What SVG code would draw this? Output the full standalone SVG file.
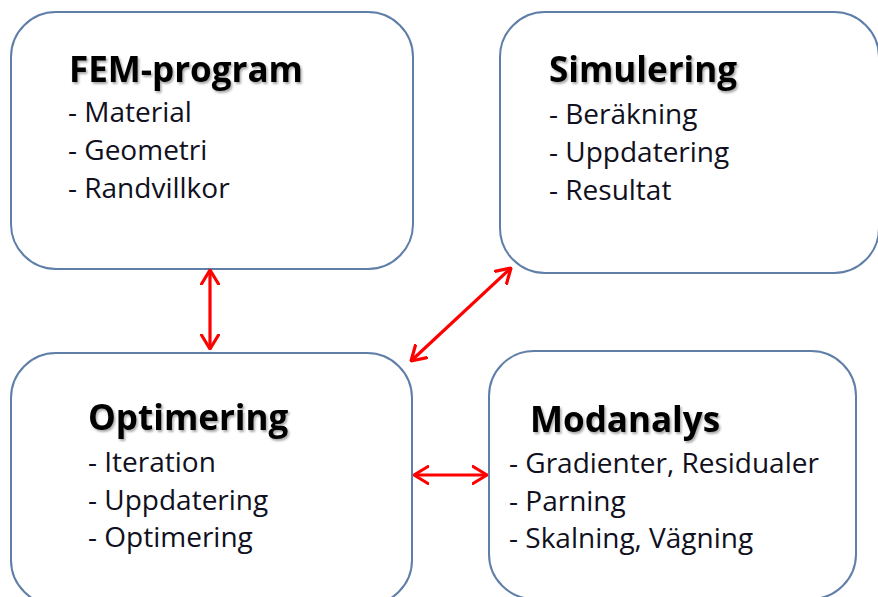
<svg xmlns="http://www.w3.org/2000/svg" width="878" height="597" viewBox="0 0 878 597">
  <defs>
    <style>
      .box { fill: #ffffff; stroke: #5f7ea8; stroke-width: 2; }
      .title { font-family: "Open Sans", "Liberation Sans", sans-serif; font-weight: bold; font-size: 35px; fill: #000000; }
      .item { font-family: "Open Sans", "Liberation Sans", sans-serif; font-size: 28px; fill: #101020; }
      .conn { stroke: #ff0000; stroke-width: 3.2; fill: none; }
    </style>
    <filter id="shadow" x="-10%" y="-30%" width="130%" height="170%">
      <feDropShadow dx="1.5" dy="2" stdDeviation="1.2" flood-color="#000000" flood-opacity="0.35"/>
    </filter>
    <marker id="head" viewBox="0 0 16 20" refX="15" refY="10" markerWidth="16" markerHeight="20" markerUnits="userSpaceOnUse" orient="auto-start-reverse">
      <path d="M1,1.5 L15,10 L1,18.5" fill="none" stroke="#ff0000" stroke-width="3.2" stroke-linecap="round" stroke-linejoin="round"/>
    </marker>
  </defs>
  <rect width="878" height="597" fill="#ffffff"/>

  <g id="fem-program">
    <rect class="box" x="11" y="12" width="402" height="257" rx="45" ry="45"/>
    <text class="title" x="69" y="82" filter="url(#shadow)">FEM-program</text>
    <text class="item" x="68" y="122">- Material</text>
    <text class="item" x="68" y="160">- Geometri</text>
    <text class="item" x="68" y="198">- Randvillkor</text>
  </g>

  <g id="simulering">
    <rect class="box" x="500" y="12" width="379" height="261" rx="45" ry="45"/>
    <text class="title" x="549" y="82" filter="url(#shadow)">Simulering</text>
    <text class="item" x="549" y="124">- Beräkning</text>
    <text class="item" x="549" y="162">- Uppdatering</text>
    <text class="item" x="549" y="200">- Resultat</text>
  </g>

  <g id="optimering">
    <rect class="box" x="11" y="353" width="401" height="252" rx="45" ry="45"/>
    <text class="title" x="88" y="430" filter="url(#shadow)">Optimering</text>
    <text class="item" x="88" y="472">- Iteration</text>
    <text class="item" x="88" y="510">- Uppdatering</text>
    <text class="item" x="88" y="547">- Optimering</text>
  </g>

  <g id="modanalys">
    <rect class="box" x="489" y="351" width="367" height="248" rx="45" ry="45"/>
    <text class="title" x="530" y="432" filter="url(#shadow)">Modanalys</text>
    <text class="item" x="509" y="473">- Gradienter, Residualer</text>
    <text class="item" x="509" y="511">- Parning</text>
    <text class="item" x="509" y="548">- Skalning, Vägning</text>
  </g>

  <g id="connectors">
    <line class="conn" x1="210" y1="270" x2="210" y2="349" marker-start="url(#head)" marker-end="url(#head)"/>
    <line class="conn" x1="411" y1="361" x2="511" y2="268" marker-start="url(#head)" marker-end="url(#head)"/>
    <line class="conn" x1="414" y1="475" x2="487" y2="475" marker-start="url(#head)" marker-end="url(#head)"/>
  </g>
</svg>
